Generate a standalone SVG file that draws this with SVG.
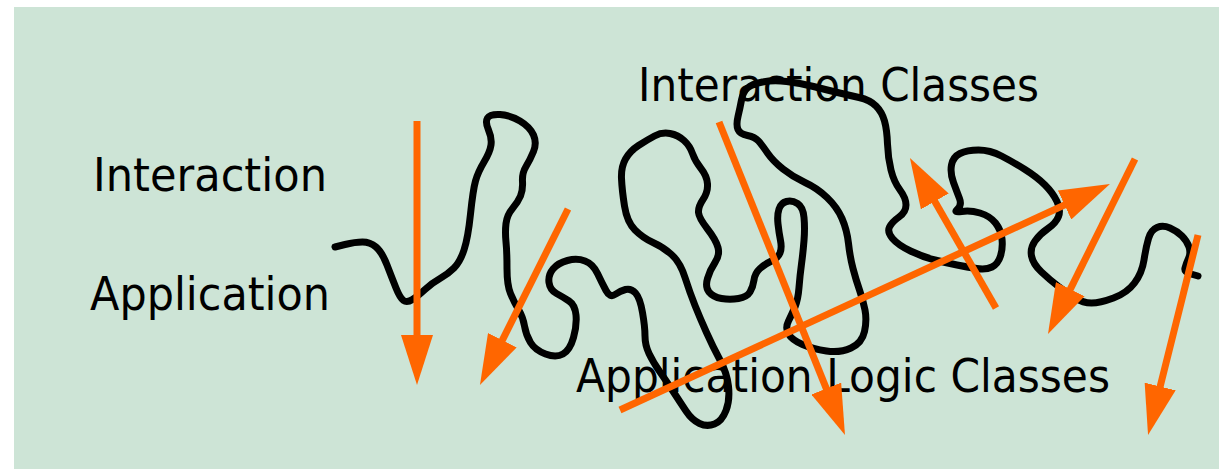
<svg xmlns="http://www.w3.org/2000/svg" width="1219" height="469" viewBox="0 0 1219 469">
<style>
.lbl{font-family:"DejaVu Sans","Liberation Sans",sans-serif;font-size:46px;fill:#000}
.arr{stroke:#FF6600;stroke-width:7;fill:none;marker-end:url(#head)}
.wire{stroke:#000;stroke-width:7;fill:none;stroke-linecap:round;stroke-linejoin:round}
</style>
<defs>
<marker id="head" markerUnits="userSpaceOnUse" viewBox="0 0 50 32" refX="30" refY="16" markerWidth="50" markerHeight="32" orient="auto">
<path d="M0,0 L50,16 L0,32 z" fill="#FF6600"/>
</marker>
</defs>
<rect x="14" y="7" width="1205" height="462" fill="#CDE4D6"/>
<g id="label-interaction"><text class="lbl" x="93" y="191" textLength="234" lengthAdjust="spacingAndGlyphs">Interaction</text></g>
<g id="label-application"><text class="lbl" x="90" y="310" textLength="240" lengthAdjust="spacingAndGlyphs">Application</text></g>
<g id="label-interaction-classes"><text class="lbl" x="638" y="101" textLength="401" lengthAdjust="spacingAndGlyphs">Interaction Classes</text></g>
<g id="label-application-logic-classes"><text class="lbl" x="576" y="392" textLength="534" lengthAdjust="spacingAndGlyphs">Application Logic Classes</text></g>
<g id="tangle">
<path class="wire" d="M335,247 L345,244.5 Q355,242 362.5,242 Q370,242 376,247 Q382,252 387,265 Q392,278 396,288 Q400,298 403.5,300.5 Q407,303 412.5,299.5 Q418,296 425,289.5 Q432,283 440,278.5 Q448,274 454,268 Q460,262 464,250 Q468,238 470.5,214 Q473,190 475.5,181 Q478,172 484,162 Q490,152 491,145 Q492,138 488.5,130 Q485,122 487.5,118 Q490,114 500,114.5 Q510,115 520,121 Q530,127 533.5,135 Q537,143 533.5,151.5 Q530,160 526,166.5 Q522,173 522.5,181.5 Q523,190 520.5,196 Q518,202 512.5,208.5 Q507,215 506,223.5 Q505,232 506,242 Q507,252 507,268.5 Q507,285 510.5,293.5 Q514,302 518.5,309.5 Q523,317 524.5,326 Q526,335 530.5,342.5 Q535,350 545.5,354 Q556,358 563,354 Q570,350 573.5,337.5 Q577,325 576,315 Q575,305 569,301 Q563,297 556.5,293.5 Q550,290 549,282.5 Q548,275 553,269 Q558,263 567.5,260.5 Q577,258 585,261 Q593,264 597.5,273.5 Q602,283 606,290.5 Q610,298 615,294.5 Q620,291 625.5,289.5 Q631,288 635.5,293 Q640,298 642.5,312.5 Q645,327 645,336 Q645,345 649,353.5 Q653,362 660,372 Q667,382 673.5,392 Q680,402 686,411 Q692,420 699.5,423.5 Q707,427 714.5,424 Q722,421 726,410.5 Q730,400 728.5,386.5 Q727,373 720,360 Q713,347 706.5,332.5 Q700,318 695,305.5 Q690,293 685,277.5 Q680,262 671.5,254.5 Q663,247 653,242.5 Q643,238 635,230 Q627,222 624.5,206 Q622,190 621.5,178.5 Q621,167 625.5,159 Q630,151 638.5,145.5 Q647,140 654.5,136 Q662,132 670,133.5 Q678,135 684,140.5 Q690,146 692.5,153.5 Q695,161 701,168.5 Q707,176 707.5,184 Q708,192 703,199.5 Q698,207 698.5,212.5 Q699,218 707.5,229 Q716,240 718,247.5 Q720,255 715,262.5 Q710,270 707.5,278.5 Q705,287 709,292 Q713,297 721.5,298.5 Q730,300 738.5,298.5 Q747,297 750,292 Q753,287 754,280 Q755,273 760,268.5 Q765,264 771.5,261 Q778,258 780,253 Q782,248 780.5,240.5 Q779,233 778,224 Q777,215 779,209 Q781,203 786.5,201.5 Q792,200 797.5,203.5 Q803,207 804,217.5 Q805,228 804,240.5 Q803,253 801.5,264 Q800,275 799,287.5 Q798,300 795,307 Q792,314 788.5,321 Q785,328 788.5,334 Q792,340 802.5,344.5 Q813,349 826.5,351 Q840,353 851,348 Q862,343 864.5,331.5 Q867,320 865,310 Q863,300 859.5,290 Q856,280 853,268.5 Q850,257 848.5,243.5 Q847,230 842,218.5 Q837,207 827,197.5 Q817,188 805,182.5 Q793,177 783,169 Q773,161 767.5,153 Q762,145 758.5,141 Q755,137 747.5,135.5 Q740,134 738,129.5 Q736,125 738,116.5 Q740,108 741.5,100 Q743,92 747.5,88 Q752,84 762.5,82 Q773,80 786.5,81.5 Q800,83 813.5,86.5 Q827,90 837.5,92.5 Q848,95 859,97.5 Q870,100 876,106 Q882,112 884.5,121 Q887,130 887.5,144 Q888,158 891,170 Q894,182 900,190 Q906,198 906,205 Q906,212 899,217 Q892,222 889.5,227 Q887,232 892.5,238.5 Q898,245 910.5,251 Q923,257 935,260 Q947,263 957,265 Q967,267 976.5,268.5 Q986,270 992,267 Q998,264 1000.5,256 Q1003,248 1002,239 Q1001,230 995.5,223 Q990,216 980,213 Q970,210 961.5,211.5 Q953,213 957.5,209 Q962,205 959.5,198.5 Q957,192 953.5,182.5 Q950,173 951.5,165 Q953,157 960,153.5 Q967,150 978.5,150 Q990,150 1001.5,156 Q1013,162 1025,169.5 Q1037,177 1045,185 Q1053,193 1057,201.5 Q1061,210 1058.5,216.5 Q1056,223 1048,228.5 Q1040,234 1035,241 Q1030,248 1031.5,256 Q1033,264 1041.5,272 Q1050,280 1058.5,286.5 Q1067,293 1075,298 Q1083,303 1091.5,303 Q1100,303 1113.5,298 Q1127,293 1134.5,283 Q1142,273 1144,260 Q1146,247 1148.5,238.5 Q1151,230 1157,227.5 Q1163,225 1170,228 Q1177,231 1182,236 Q1187,241 1189,247 Q1191,253 1188.5,258.5 Q1186,264 1185,268 Q1184,272 1191,274 L1198,276"/>
</g>
<g id="connectors">
<line class="arr" x1="417" y1="121" x2="417" y2="365"/>
<line class="arr" x1="568" y1="209" x2="488.9" y2="367.1"/>
<line class="arr" x1="719" y1="122" x2="837.5" y2="416.4"/>
<line class="arr" x1="620" y1="410" x2="1091.8" y2="192.4"/>
<line class="arr" x1="996" y1="308" x2="919.9" y2="175.4"/>
<line class="arr" x1="1135" y1="159" x2="1056.9" y2="316.1"/>
<line class="arr" x1="1198" y1="235" x2="1152.9" y2="415.6"/>
</g>
</svg>
